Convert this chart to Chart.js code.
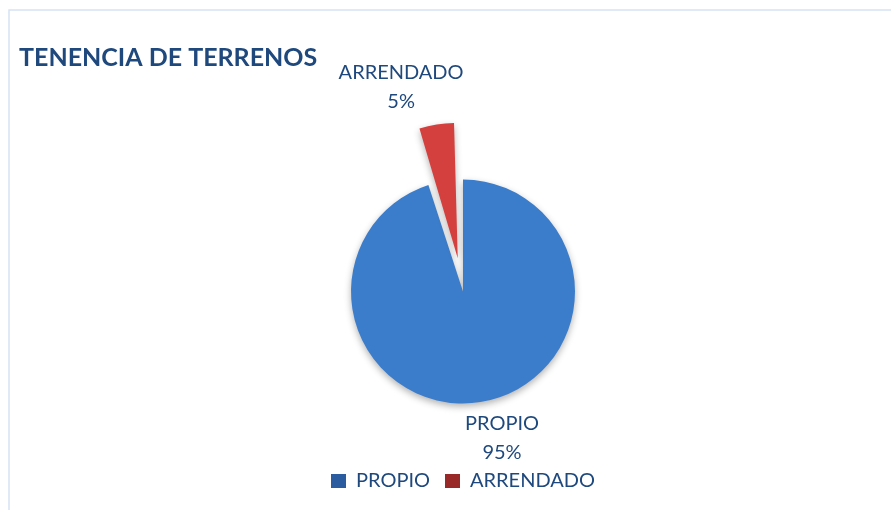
<!DOCTYPE html>
<html>
<head>
<meta charset="utf-8">
<script src="https://cdn.jsdelivr.net/npm/chart.js@4.4.0/dist/chart.umd.min.js"></script>
<style>
  html, body { margin: 0; padding: 0; background: #fff; }
  #wrap { width: 891px; height: 510px; position: relative; }
</style>
</head>
<body>
<div id="wrap"><canvas id="tenencia" width="891" height="510"></canvas></div>
<script>
const categorias = ['PROPIO', 'ARRENDADO'];
const porcentajes = [95, 5];
const separacion = [0, 57];   // distancia visible del sector separado, px
const tituloGrafico = 'TENENCIA DE TERRENOS';

const colorTexto = '#1f497d';
const coloresArriba = ['#3c7dcb', '#d4403d'];
const coloresAbajo = ['#2b5c9f', '#992828'];

const total = porcentajes.reduce((a, b) => a + b, 0);

// Chart.js v4 desplaza el arco offset/4 * (1 + (1 - sin(circ))); se invierte aqui
function factorOffset(i) {
    const circ = 2 * Math.PI * porcentajes[i] / total;
    return (1 + (1 - Math.sin(Math.min(Math.PI, circ)))) / 4;
}

function relleno(ctx) {
    const chart = ctx.chart;
    const arc = chart.getDatasetMeta(0).data[ctx.dataIndex];
    if (!chart.chartArea || !arc || !arc.outerRadius) return coloresArriba[ctx.dataIndex];
    const r = arc.outerRadius;
    const g = chart.ctx.createLinearGradient(0, arc.y - r - separacion[ctx.dataIndex], 0, arc.y + r);
    g.addColorStop(0, coloresArriba[ctx.dataIndex]);
    g.addColorStop(1, coloresAbajo[ctx.dataIndex]);
    return g;
}

const marcoYTitulo = {
    id: 'marcoYTitulo',
    beforeDraw(chart) {
        const c = chart.ctx;
        c.save();
        c.strokeStyle = '#d6e3f3';
        c.lineWidth = 1.5;
        c.beginPath();
        c.moveTo(9, 510);
        c.lineTo(9, 10);
        c.lineTo(891, 10);
        c.stroke();
        c.fillStyle = colorTexto;
        c.font = 'bold 25px Lato';
        c.textBaseline = 'alphabetic';
        c.fillText(tituloGrafico, 19, 66);
        c.restore();
    },
    beforeDatasetsDraw(chart) {
        const c = chart.ctx;
        c.save();
        c.shadowColor = 'rgba(0,0,0,0.3)';
        c.shadowBlur = 7;
        c.shadowOffsetY = 3;
    },
    afterDatasetsDraw(chart) {
        chart.ctx.restore();
    }
};

const etiquetas = {
    id: 'etiquetas',
    afterDraw(chart) {
        const c = chart.ctx;
        const meta = chart.getDatasetMeta(0);
        c.save();
        c.font = '20px Lato';
        c.fillStyle = colorTexto;
        c.textAlign = 'center';
        c.textBaseline = 'middle';
        meta.data.forEach((arc, i) => {
            const mid = (arc.startAngle + arc.endAngle) / 2;
            const dx = Math.cos(mid), dy = Math.sin(mid);
            const off = (arc.options.offset || 0) * factorOffset(i);
            const r = arc.outerRadius + off + 8;
            const ax = arc.x + dx * r;
            const ay = arc.y + dy * r;
            const lineas = [categorias[i], porcentajes[i] + '%'];
            const w = Math.max(...lineas.map(t => c.measureText(t).width));
            const h = 58;
            const f = Math.max(-1, Math.min(1, dx * 3.5));
            const cx = ax + f * w / 2;
            const cy = ay + dy * h / 2;
            c.fillText(lineas[0], cx, cy - 15);
            c.fillText(lineas[1], cx, cy + 14);
        });
        c.restore();
    }
};

new Chart(document.getElementById('tenencia'), {
    type: 'pie',
    data: {
        labels: categorias,
        datasets: [{
            data: porcentajes,
            backgroundColor: relleno,
            borderWidth: 0,
            offset: separacion.map((s, i) => s / factorOffset(i))
        }]
    },
    options: {
        responsive: false,
        animation: false,
        radius: 112,
        layout: { padding: { left: 35, right: 0, top: 127, bottom: 9 } },
        plugins: {
            title: { display: false },
            tooltip: { enabled: false },
            legend: {
                position: 'bottom',
                labels: {
                    color: colorTexto,
                    font: { family: 'Lato', size: 20 },
                    boxWidth: 15,
                    boxHeight: 14,
                    padding: 15
                }
            }
        }
    },
    plugins: [marcoYTitulo, etiquetas]
});
</script>
</body>
</html>
